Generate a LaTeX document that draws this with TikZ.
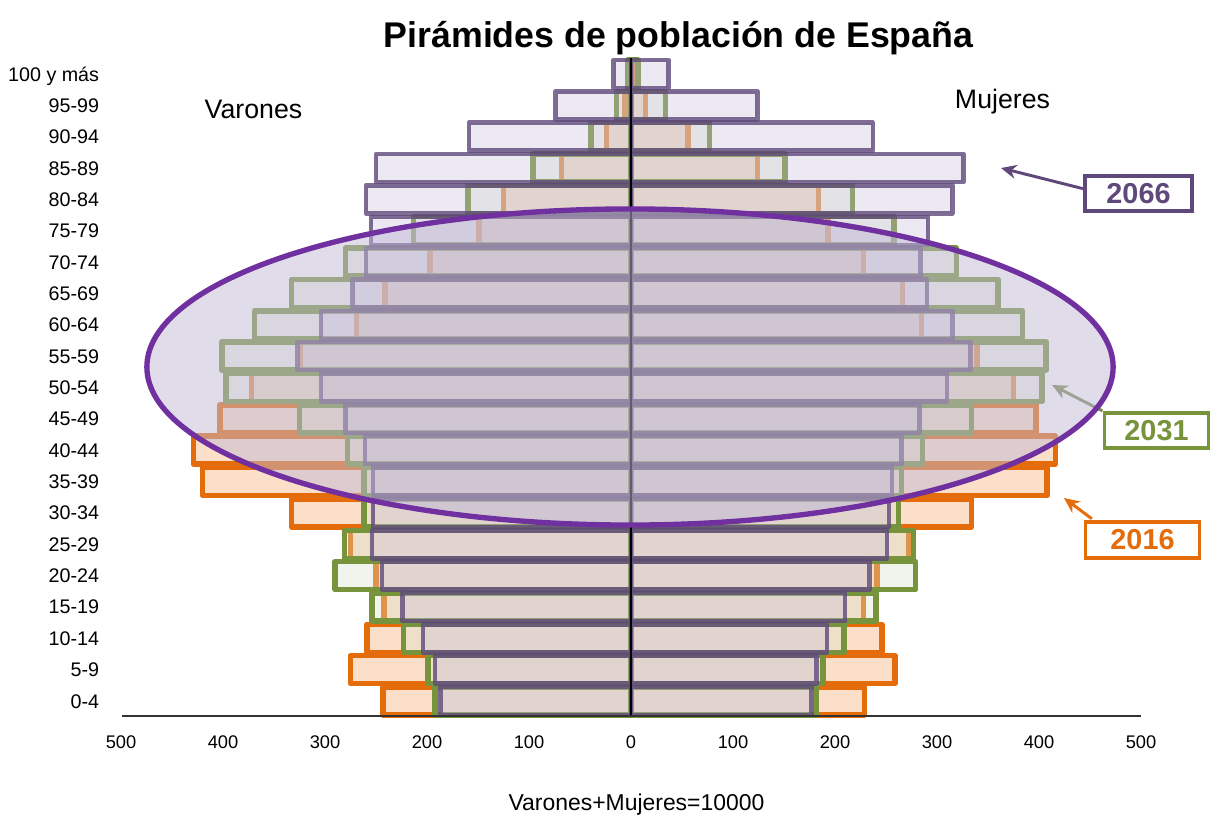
\documentclass[tikz,border=0pt]{standalone}
\usepackage{fontspec}
\setmainfont{Liberation Sans}
\usetikzlibrary{arrows.meta}
\definecolor{orange2016}{HTML}{E46C0A}
\definecolor{green2031}{HTML}{77933C}
\definecolor{purple2066}{HTML}{5F497A}
\definecolor{fill2016}{RGB}{251,223,200}
\definecolor{fill2031}{RGB}{215,224,201}
\definecolor{fill2066}{RGB}{201,192,221}
\definecolor{ringline}{HTML}{7030A0}
\definecolor{ringfill}{RGB}{193,185,213}

\begin{document}
\begin{tikzpicture}[x=0.025cm, y=-0.025cm,
		bar2016/.style={draw=orange2016, fill=fill2016, line width=3.9pt, line join=round},
		bar2031/.style={draw=green2031, fill=fill2031, fill opacity=0.35, line width=3.9pt, line join=round},
		bar2066/.style={draw=purple2066, draw opacity=0.8, fill=fill2066, fill opacity=0.35, line width=3.2pt, line join=round},
		agelabel/.style={anchor=base east, font=\fontsize{14}{16}\selectfont},
		ticklabel/.style={anchor=base, font=\fontsize{13}{15}\selectfont},
		yearbox/.style={draw, fill=white, line width=2.8pt, minimum height=0.88cm, inner sep=0pt, font=\fontsize{20.5}{24}\selectfont\bfseries},
		yeararrow/.style={-{Stealth[length=11pt,width=10pt]}, line width=2.1pt}]
		\useasboundingbox (0,0) rectangle (1211,816);
		\foreach \lv/\rv [count=\i from 0] in {243/229, 275/259, 259/246, 242/228, 250/241, 275/272, 333/334, 420/408, 429/416, 403/397, 372/375, 324/339, 269/285, 241/266, 197/228, 149/193, 125/184, 68/124, 24/56, 6/14, 1/3} {
			\draw[bar2016] ({631-1.02*\lv},{687-31.35*\i}) rectangle (631,{715-31.35*\i});
			\draw[bar2016] (631,{687-31.35*\i}) rectangle ({631+1.02*\rv},{715-31.35*\i});
		}
		\foreach \lv/\rv [count=\i from 0] in {192/182, 199/188, 223/209, 254/240, 290/279, 281/277, 262/262, 262/265, 278/286, 325/334, 397/403, 401/407, 369/384, 333/360, 280/319, 213/258, 160/217, 96/151, 39/77, 14/34, 3/7} {
			\draw[bar2031] ({631-1.02*\lv},{687-31.35*\i}) rectangle (631,{715-31.35*\i});
			\draw[bar2031] (631,{687-31.35*\i}) rectangle ({631+1.02*\rv},{715-31.35*\i});
		}
		\foreach \lv/\rv [count=\i from 0] in {187/177, 192/182, 204/192, 224/210, 244/234, 254/251, 253/253, 253/256, 261/265, 280/283, 304/310, 327/333, 304/315, 273/290, 260/284, 255/291, 260/315, 250/326, 159/237, 74/124, 17/37} {
			\draw[bar2066] ({631-1.02*\lv},{687-31.35*\i}) rectangle (631,{715-31.35*\i});
			\draw[bar2066] (631,{687-31.35*\i}) rectangle ({631+1.02*\rv},{715-31.35*\i});
		}
		\draw[line width=1.4pt] (631,58) -- (631,716);
		\draw[line width=1pt, black!80] (122,716) -- (1141,716);
		\foreach \t [count=\i from 0] in {0-4,5-9,10-14,15-19,20-24,25-29,30-34,35-39,40-44,45-49,50-54,55-59,60-64,65-69,70-74,75-79,80-84,85-89,90-94,95-99,100 y más}
			\node[agelabel] (age\i) at (104,{708-31.35*\i}) {\t};
		\foreach \v [count=\i from 0] in {500,400,300,200,100,0,100,200,300,400,500}
			\node[ticklabel] (tick\i) at ({121+102*\i},748) {\v};
		\node[anchor=base, font=\fontsize{25.4}{30}\selectfont\bfseries] (title) at (678.5,47) {Pirámides de población de España};
		\node[anchor=base, font=\fontsize{19}{22}\selectfont] (men) at (253.5,118) {Varones};
		\node[anchor=base, font=\fontsize{19}{22}\selectfont] (women) at (1002.5,108) {Mujeres};
		\node[anchor=base, font=\fontsize{16.3}{19}\selectfont] (total) at (636.5,810.5) {Varones+Mujeres=10000};
		\node[yearbox, draw=purple2066, text=purple2066, minimum width=2.68cm] (y2066) at (1138.5,193.5) {2066};
		\node[yearbox, draw=green2031, text=green2031, minimum width=2.6cm] (y2031) at (1156.5,430.5) {2031};
		\node[yearbox, draw=orange2016, text=orange2016, minimum width=2.85cm] (y2016) at (1142.5,540) {2016};
		\coordinate (tip2066) at (1001,168);
		\coordinate (tip2031) at (1052,385);
		\coordinate (tip2016) at (1064,498);
		\draw [yeararrow, purple2066] (y2066.175) -- (tip2066);
		\draw [yeararrow, green2031!70!gray] (y2031.north west) -- (tip2031);
		\draw [yeararrow, orange2016, shorten <=2pt] (y2016.158) -- (tip2016);
		\draw [draw=ringline, line width=3.8pt, fill=ringfill, fill opacity=0.5] (630,367) ellipse [x radius=12.075cm, y radius=3.95cm];
\end{tikzpicture}
\end{document}
